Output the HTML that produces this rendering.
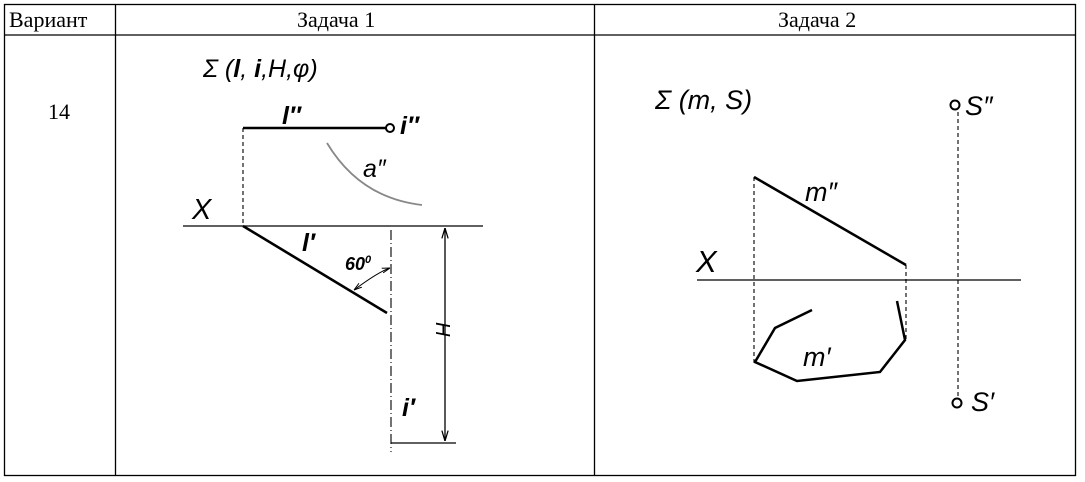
<!DOCTYPE html>
<html><head><meta charset="utf-8"><style>
body{margin:0;background:#fff;width:1085px;height:482px;overflow:hidden}
svg{display:block}
.t{font-family:"Liberation Serif",serif;font-size:22px;fill:#000}
.s{font-family:"Liberation Sans",sans-serif;font-style:italic;fill:#000}
</style></head><body>
<svg width="1085" height="482" viewBox="0 0 1085 482">
<defs>
<marker id="a" viewBox="0 0 10 10" refX="10" refY="5" markerWidth="8" markerHeight="8" orient="auto-start-reverse"><path d="M0,2 L10,5 L0,8" fill="none" stroke="#000" stroke-width="1.2"/></marker>
</defs>
<g stroke="#000" stroke-width="1.3" fill="none">
<rect x="4.5" y="4.5" width="1071" height="471"/>
<line x1="4" y1="35" x2="1076" y2="35"/>
<line x1="115.5" y1="4" x2="115.5" y2="476"/>
<line x1="594.5" y1="4" x2="594.5" y2="476"/>
</g>
<text class="t" x="9" y="27">Вариант</text>
<text class="t" x="297" y="27">Задача 1</text>
<text class="t" x="778" y="27">Задача 2</text>
<text class="t" x="48" y="119">14</text>

<!-- Task 1 -->
<text class="s" x="203" y="77" font-size="25">Σ (<tspan font-weight="bold">l</tspan>, <tspan font-weight="bold">i</tspan>,H,φ)</text>
<g stroke="#000" fill="none">
<line x1="243" y1="128" x2="386" y2="128" stroke-width="2.6"/>
<circle cx="390" cy="128" r="4" stroke-width="2"/>
<line x1="243" y1="128" x2="243" y2="226" stroke-width="1.1" stroke-dasharray="4,3"/>
<line x1="183" y1="226" x2="483" y2="226" stroke-width="1.3"/>
<line x1="243" y1="226" x2="387" y2="313" stroke-width="2.6"/>
<line x1="391" y1="230" x2="391" y2="452" stroke-width="1.1" stroke-dasharray="10,3,1,3"/>
<line x1="445" y1="228" x2="445" y2="441" stroke-width="1.3" marker-start="url(#a)" marker-end="url(#a)"/>
<line x1="391" y1="443" x2="456" y2="443" stroke-width="1.3"/>
<path d="M354,290 Q378,272 390,268" stroke-width="1" marker-start="url(#a)" marker-end="url(#a)"/>
<path d="M327,143 Q360,198 422,205" stroke="#888" stroke-width="1.8"/>
</g>
<text class="s" x="282" y="124" font-size="25" font-weight="bold">l″</text>
<text class="s" x="400" y="134" font-size="25" font-weight="bold">i″</text>
<text class="s" x="363" y="177" font-size="25" fill="#555">a″</text>
<text class="s" x="192" y="219" font-size="29">X</text>
<text class="s" x="302" y="251" font-size="25" font-weight="bold">l′</text>
<text class="s" x="345" y="270" font-size="18" font-weight="bold">60<tspan font-size="11" dy="-7">0</tspan></text>
<text class="s" x="402" y="416" font-size="25" font-weight="bold">i′</text>
<text class="s" font-size="20" transform="translate(436,322) rotate(90)" x="0" y="0">H</text>

<!-- Task 2 -->
<text class="s" x="655" y="109" font-size="27">Σ (m, S)</text>
<g stroke="#000" fill="none">
<circle cx="955" cy="105" r="4.5" stroke-width="2"/>
<line x1="958" y1="112" x2="958" y2="396" stroke-width="1.1" stroke-dasharray="4,3"/>
<circle cx="957" cy="403" r="4.5" stroke-width="2"/>
<line x1="697" y1="280" x2="1021" y2="280" stroke-width="1.3"/>
<line x1="754" y1="177" x2="906" y2="265" stroke-width="2.5"/>
<line x1="754" y1="177" x2="754" y2="362" stroke-width="1.1" stroke-dasharray="4,3"/>
<line x1="906" y1="265" x2="906" y2="340" stroke-width="1.1" stroke-dasharray="4,3"/>
<polyline points="812,310 775,328 755,362 797,381 880,372 905,340 897,301" stroke-width="2.5"/>
</g>
<text class="s" x="965" y="115" font-size="27">S″</text>
<text class="s" x="971" y="411" font-size="27">S′</text>
<text class="s" x="805" y="201" font-size="27">m″</text>
<text class="s" x="803" y="366" font-size="27">m′</text>
<text class="s" x="696" y="272" font-size="31">X</text>
</svg>
</body></html>
